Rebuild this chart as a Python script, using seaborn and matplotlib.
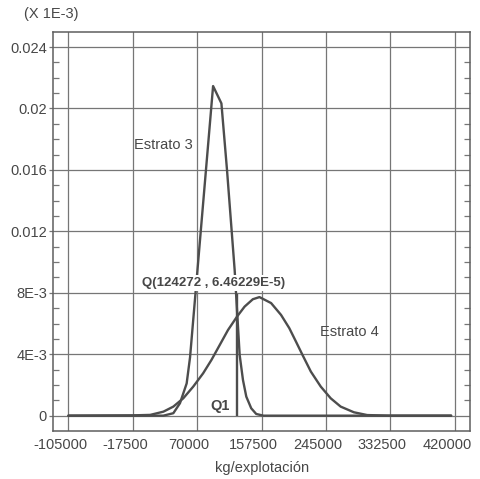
import matplotlib

matplotlib.use("Agg")

import matplotlib.pyplot as plt
import pandas as pd
import seaborn as sns
from matplotlib.transforms import ScaledTranslation
from matplotlib.ticker import MultipleLocator

# curvas (densidad en unidades de 1E-3)
estrato3_x = [-105000, -17500, 24000, 37600, 46600, 55700, 60300, 91600, 102900,
              110500, 120900, 127700, 132200, 136700, 143400, 150200, 160000, 415000]
estrato3_y = [0.0, 0.0, 0.0, 0.00016, 0.00081, 0.0021, 0.0038, 0.02146, 0.02033,
              0.016, 0.00948, 0.00395, 0.00232, 0.00124, 0.00048, 0.00011, 0.0, 0.0]

estrato4_x = [-105000, -17500, 6150, 24100, 37600, 51100, 64600, 78100, 89400,
              100600, 111900, 124272, 134400, 145600, 154600, 170400, 183900,
              195100, 204100, 213100, 224400, 237900, 251400, 264900, 282900,
              300900, 330000, 415000]
estrato4_y = [0.0, 0.00002, 0.00005, 0.00026, 0.00059, 0.00113, 0.00189, 0.00276,
              0.00363, 0.0046, 0.00558, 0.00646, 0.0071, 0.00758, 0.00772, 0.00733,
              0.00656, 0.0057, 0.00483, 0.00395, 0.00287, 0.00189, 0.00113, 0.00059,
              0.00022, 0.00004, 0.0, 0.0]

x_ticks = [-105000, -17500, 70000, 157500, 245000, 332500, 420000]
y_ticks = [0, 0.004, 0.008, 0.012, 0.016, 0.02, 0.024]
y_tick_labels = ["0", "4E-3", "8E-3", "0.012", "0.016", "0.02", "0.024"]

q_x = 124272
q_top = 0.0079
q_label = "Q(124272 , 6.46229E-5)"

LINE = "#4d4d4d"
GRID = "#767676"
TEXT = "#474747"

df = pd.concat([
    pd.DataFrame({"kg": estrato3_x, "densidad": estrato3_y, "estrato": "Estrato 3"}),
    pd.DataFrame({"kg": estrato4_x, "densidad": estrato4_y, "estrato": "Estrato 4"}),
])

sns.set_theme(style="ticks")
plt.rcParams["font.family"] = ["Liberation Sans", "DejaVu Sans"]
plt.rcParams["text.color"] = TEXT
plt.rcParams["axes.labelcolor"] = TEXT
plt.rcParams["xtick.color"] = TEXT
plt.rcParams["ytick.color"] = TEXT

fig = plt.figure(figsize=(4.8, 4.79), dpi=100, facecolor="white")
ax = fig.add_axes([0.111, 0.1008, 0.868, 0.8318])

sns.lineplot(data=df, x="kg", y="densidad", hue="estrato", palette=[LINE, LINE],
             estimator=None, legend=False, linewidth=1.7, ax=ax, zorder=3)

ax.vlines(q_x, 0, q_top, color=LINE, linewidth=1.7, zorder=3)

ax.set_xlim(-125500, 440500)
ax.set_ylim(-0.00098, 0.02496)
ax.set_xticks(x_ticks)
ax.set_xticklabels([str(v) for v in x_ticks])
ax.set_yticks(y_ticks)
ax.set_yticklabels(y_tick_labels)
ax.yaxis.set_minor_locator(MultipleLocator(0.001))

ax.grid(True, which="major", color=GRID, linewidth=0.9)
ax.tick_params(axis="x", which="major", length=0, pad=5, labelsize=10.5)
ax.tick_params(axis="y", which="major", direction="out", length=3, width=0.9,
               pad=1.5, labelsize=10.5, color=GRID)
ax.tick_params(axis="y", which="minor", direction="in", length=4, width=0.9,
               left=True, right=True, color=GRID)

# en el original las etiquetas del eje x quedan algo corridas a la izquierda
shift = ScaledTranslation(-0.08, 0, fig.dpi_scale_trans)
for lbl in ax.get_xticklabels():
    lbl.set_transform(lbl.get_transform() + shift)

for spine in ax.spines.values():
    spine.set_visible(True)
    spine.set_color("#5e5e5e")
    spine.set_linewidth(1.1)

ax.set_xlabel("kg/explotación", fontsize=10.5, labelpad=7)
ax.set_ylabel("")

ax.text(23700, 0.01762, "Estrato 3", fontsize=10.5, ha="center", va="center")
ax.text(276100, 0.00547, "Estrato 4", fontsize=10.5, ha="center", va="center")
ax.text(92500, 0.00862, q_label, fontsize=9.5, fontweight="bold", ha="center",
        va="center", zorder=5,
        bbox=dict(boxstyle="square,pad=0.15", facecolor="white", edgecolor="none"))
ax.text(114000, 0.00063, "Q1", fontsize=10.5, fontweight="bold", ha="right", va="center")

fig.text(0.05, 0.971, "(X 1E-3)", fontsize=10.5, ha="left", va="center")

fig.savefig("out.png", dpi=100, facecolor="white")
plt.close(fig)
